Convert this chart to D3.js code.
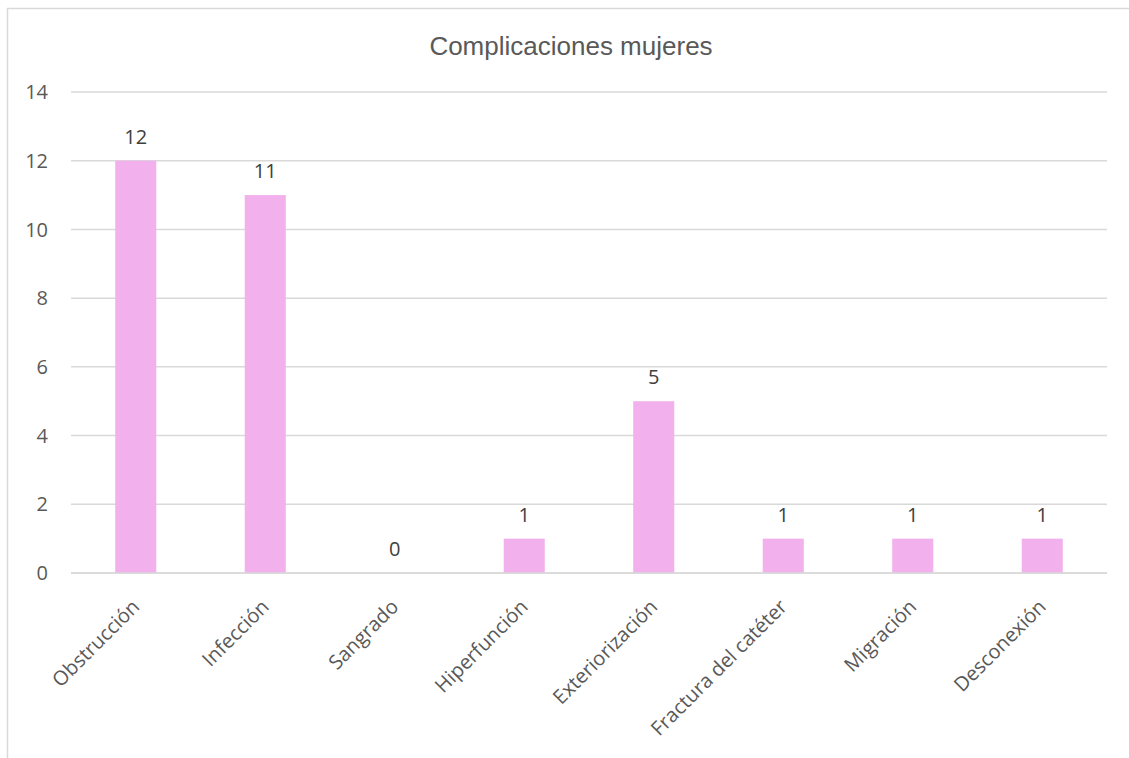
<!DOCTYPE html>
<html>
<head>
<meta charset="utf-8">
<script src="https://cdn.jsdelivr.net/npm/d3@7"></script>
<style>
  html, body { margin: 0; padding: 0; background: #fff; }
  svg { display: block; }
  .grid line { stroke: #d9d9d9; stroke-width: 1.5; }
  .tick-label { font-family: "Open Sans", sans-serif; font-size: 20px; fill: #595959; }
  .cat-label { font-family: "Open Sans", sans-serif; font-size: 20px; fill: #595959; }
  .value-label { font-family: "Open Sans", sans-serif; font-size: 20px; fill: #404040; }
  .title { font-family: "Liberation Sans", Arial, sans-serif; font-size: 26px; fill: #595959; }
</style>
</head>
<body>
<svg id="chart" width="1129" height="758"></svg>
<script>
const categories = [
  "Obstrucción", "Infección", "Sangrado", "Hiperfunción",
  "Exteriorización", "Fractura del catéter", "Migración", "Desconexión",
];
const values = [12, 11, 0, 1, 5, 1, 1, 1];
const yTicks = [0, 2, 4, 6, 8, 10, 12, 14];
const title = "Complicaciones mujeres";

const svg = d3.select("#chart");

// chart frame (only left and top edges show in the crop)
svg.append("rect")
  .attr("x", 7.5).attr("y", 8.5)
  .attr("width", 1140).attr("height", 770)
  .attr("fill", "none")
  .attr("stroke", "#d9d9d9")
  .attr("stroke-width", 1.5);

const plot = { left: 71, right: 1107, top: 92, bottom: 573 };

const x = d3.scaleBand()
  .domain(categories)
  .range([plot.left, plot.right])
  .paddingInner(0.683)
  .paddingOuter(0.683 / 2);

const y = d3.scaleLinear()
  .domain([0, 14])
  .range([plot.bottom, plot.top]);

svg.append("text")
  .attr("class", "title")
  .attr("x", 571)
  .attr("y", 55)
  .attr("text-anchor", "middle")
  .text(title);

const grid = svg.append("g").attr("class", "grid");
grid.selectAll("line")
  .data(yTicks)
  .join("line")
  .attr("x1", plot.left)
  .attr("x2", plot.right)
  .attr("y1", (d) => y(d))
  .attr("y2", (d) => y(d));

svg.append("g")
  .selectAll("text")
  .data(yTicks)
  .join("text")
  .attr("class", "tick-label")
  .attr("x", 48)
  .attr("y", (d) => y(d))
  .attr("dy", "0.36em")
  .attr("text-anchor", "end")
  .text((d) => d);

const rows = categories.map((c, i) => ({ c, v: values[i] }));

svg.append("g")
  .selectAll("rect")
  .data(rows)
  .join("rect")
  .attr("x", (d) => x(d.c))
  .attr("width", x.bandwidth())
  .attr("y", (d) => y(d.v))
  .attr("height", (d) => y(0) - y(d.v))
  .attr("fill", "#f2b0ec");

// redraw the zero line over the bar bottoms
svg.append("line")
  .attr("x1", plot.left).attr("x2", plot.right)
  .attr("y1", y(0)).attr("y2", y(0))
  .attr("stroke", "#d9d9d9").attr("stroke-width", 1.5);

svg.append("g")
  .selectAll("text")
  .data(rows)
  .join("text")
  .attr("class", "value-label")
  .attr("x", (d) => x(d.c) + x.bandwidth() / 2)
  .attr("y", (d) => y(d.v) - 17)
  .attr("text-anchor", "middle")
  .text((d) => d.v);

svg.append("g")
  .selectAll("text")
  .data(categories)
  .join("text")
  .attr("class", "cat-label")
  .attr("text-anchor", "end")
  .attr("transform", (d) => `translate(${x(d) + x.bandwidth() / 2 + 5},${plot.bottom + 35}) rotate(-45)`)
  .text((d) => d);
</script>
</body>
</html>
